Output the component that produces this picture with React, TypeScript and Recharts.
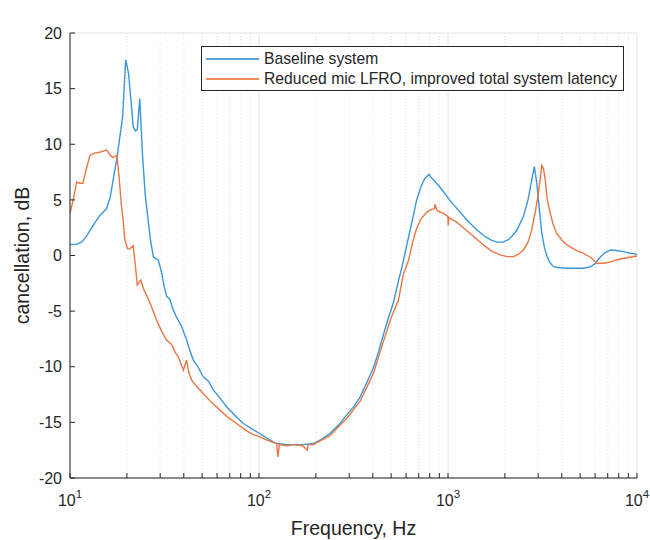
import React from 'react';
import { LineChart, Line, XAxis, YAxis, CartesianGrid, ReferenceLine, Legend } from 'recharts';

const title = 'FB ANC';
const xLabel = 'Frequency, Hz';
const yLabel = 'cancellation, dB';
const seriesNames = ['Baseline system', 'Reduced mic LFRO, improved total system latency'];
const seriesColors = ['#3a96d8', '#ea7642'];

const decadeTicks = [10, 100, 1000, 10000];
const decadeExponents = ['1', '2', '3', '4'];
const minorTicks = [20, 30, 40, 50, 60, 70, 80, 90, 200, 300, 400, 500, 600, 700, 800, 900, 2000, 3000, 4000, 5000, 6000, 7000, 8000, 9000];
const yTicks = [-20, -15, -10, -5, 0, 5, 10, 15, 20];

const baselineFreq = [10, 10.8, 11.5, 12.2, 12.8, 13.6, 14.4, 15.0, 15.6, 16.3, 17.0, 17.8, 18.4, 19.0, 19.7, 20.4, 21.0, 21.6, 22.2, 22.7, 23.4, 24.2, 25.0, 25.9, 26.6, 27.6, 28.5, 29.3, 30.5, 31.5, 32.5, 33.7, 35.0, 36.5, 39.0, 41.4, 43.0, 44.9, 47.5, 50.7, 54, 57.4, 62, 67.4, 75, 82.7, 92, 101, 112, 124, 140, 152, 170, 194, 215, 237, 265, 292, 320, 343, 370, 403, 430, 452, 480, 513, 545, 575, 610, 650, 683, 720, 752, 794, 815, 838, 900, 960, 1018, 1130, 1258, 1400, 1543, 1680, 1817, 1960, 2119, 2300, 2506, 2650, 2775, 2863, 2949, 3050, 3135, 3240, 3341, 3480, 3623, 3900, 4266, 4700, 5222, 5700, 6018, 6350, 6697, 7230, 7800, 8467, 9200, 10000];
const baselineDb = [1.0, 1.0, 1.2, 1.7, 2.3, 3.0, 3.6, 3.9, 4.2, 5.2, 7.0, 9.0, 10.8, 12.5, 17.6, 16.4, 14.0, 11.6, 11.2, 11.3, 14.1, 9.0, 5.5, 3.2, 1.5, -0.1, -0.3, -0.4, -1.5, -2.8, -3.7, -3.9, -4.8, -5.5, -6.4, -7.6, -8.5, -9.4, -10.0, -10.9, -11.3, -12.1, -12.8, -13.6, -14.4, -15.1, -15.6, -16.0, -16.5, -16.9, -17.0, -17.0, -17.0, -16.9, -16.5, -16.0, -15.2, -14.3, -13.5, -12.7, -11.5, -10.1, -8.6, -7.3, -5.8, -4.3, -2.4, -0.8, 1.2, 3.3, 5.0, 6.2, 6.9, 7.3, 7.0, 6.8, 6.2, 5.6, 5.0, 4.1, 3.2, 2.4, 1.8, 1.4, 1.2, 1.2, 1.5, 2.2, 3.5, 5.0, 6.8, 8.0, 6.5, 4.0, 2.0, 0.7, -0.1, -0.7, -1.0, -1.1, -1.15, -1.15, -1.15, -1.0, -0.7, -0.2, 0.2, 0.5, 0.45, 0.35, 0.2, 0.1];

const reducedFreq = [10, 10.4, 10.85, 11.3, 11.7, 12.2, 12.76, 13.5, 14.5, 15.6, 16.2, 16.8, 17.7, 18.2, 18.7, 19.1, 19.5, 20.2, 20.8, 21.6, 22.2, 22.7, 23.7, 24.5, 25.4, 27, 28.7, 30.5, 32.4, 34.5, 36, 37.4, 39.8, 41.4, 42.5, 44, 47, 50.7, 56, 62.2, 69, 76.1, 85, 93.2, 101, 110, 124, 126, 128, 140, 152, 170, 180, 182, 194, 237, 292, 343, 403, 452, 500, 547, 580, 619, 650, 683, 720, 773, 817, 850, 852, 880, 941, 1000, 1002, 1010, 1111, 1306, 1543, 1700, 1889, 2050, 2226, 2400, 2506, 2650, 2775, 2900, 3011, 3135, 3200, 3270, 3350, 3477, 3600, 3750, 4000, 4266, 4700, 5222, 5700, 6150, 6697, 7200, 7800, 8800, 10000];
const reducedDb = [3.8, 5.0, 6.6, 6.5, 6.5, 7.8, 9.0, 9.2, 9.3, 9.5, 9.1, 8.8, 9.0, 7.0, 4.5, 3.2, 1.4, 0.6, 0.6, 0.9, -1.0, -2.65, -2.2, -3.0, -3.55, -4.6, -5.8, -6.8, -7.6, -8.0, -8.7, -9.1, -10.3, -9.4, -10.5, -11.2, -11.8, -12.4, -13.2, -13.9, -14.6, -15.1, -15.7, -16.1, -16.3, -16.6, -16.9, -18.1, -17.0, -17.1, -17.0, -17.1, -17.5, -17.0, -17.0, -16.2, -14.6, -13.1, -10.6, -7.9, -5.6, -4.0, -1.7, -0.4, 1.2, 2.45, 3.3, 3.9, 4.15, 4.2, 4.6, 4.0, 3.8, 3.5, 2.7, 3.4, 3.0, 2.0, 0.95, 0.4, 0.05, -0.1, -0.1, 0.2, 0.5, 1.2, 2.3, 4.0, 5.6, 8.1, 7.8, 6.8, 5.0, 3.8, 2.8, 2.0, 1.4, 0.95, 0.5, 0.2, -0.2, -0.7, -0.7, -0.6, -0.4, -0.2, -0.05];

const baselineData = baselineFreq.map((f, i) => ({ f, v: baselineDb[i] }));
const reducedData = reducedFreq.map((f, i) => ({ f, v: reducedDb[i] }));
const allXTicks = [...decadeTicks, ...minorTicks].sort((a, b) => a - b);

const FONT = '"Liberation Sans", Arial, Helvetica, sans-serif';
const TEXT = '#262626';
const AXIS = '#262626';

const XTick = (props: any) => {
  const { x, y, payload } = props;
  const idx = decadeTicks.indexOf(payload.value);
  if (idx < 0) return <g />;
  return (
    <text x={x} y={y + 28} textAnchor="middle" fontSize={16} fill={TEXT} fontFamily={FONT}>
      <tspan>10</tspan>
      <tspan dy={-8} fontSize={11.5}>{decadeExponents[idx]}</tspan>
    </text>
  );
};

const EmptyTick = () => <g />;

const LegendBox = () => (
  <div
    style={{
      width: 421,
      height: 43,
      border: '1px solid #262626',
      background: '#ffffff',
      fontFamily: FONT,
      fontSize: 15.7,
      color: TEXT,
      boxSizing: 'content-box',
    }}
  >
    {seriesNames.map((n, i) => (
      <div key={n} style={{ display: 'flex', alignItems: 'center', height: 20, marginTop: i === 0 ? 2 : 0 }}>
        <div style={{ width: 53, height: 0, borderTop: `2px solid ${seriesColors[i]}`, marginLeft: 4, marginRight: 5, opacity: 0.85 }} />
        <span style={{ whiteSpace: 'nowrap', lineHeight: '20px' }}>{n}</span>
      </div>
    ))}
  </div>
);

export default function App() {
  return (
    <div style={{ position: 'absolute', left: 0, top: 0, width: 650, height: 540, background: '#fff' }}>
      <LineChart width={650} height={540} margin={{ top: 33, right: 13, bottom: 0, left: 0 }} style={{ fontFamily: FONT }}>
        <CartesianGrid vertical={false} stroke="#e4e4e4" strokeWidth={1} />
        {minorTicks.map((t) => (
          <ReferenceLine key={'m' + t} xAxisId="bottom" yAxisId="left" x={t} stroke="#dcdcdc" strokeDasharray="1 2" strokeWidth={1} />
        ))}
        {decadeTicks.map((t) => (
          <ReferenceLine key={'d' + t} xAxisId="bottom" yAxisId="left" x={t} stroke="#e4e4e4" strokeWidth={1} />
        ))}
        <XAxis
          xAxisId="bottom"
          dataKey="f"
          type="number"
          scale="log"
          domain={[10, 10000]}
          allowDataOverflow
          ticks={allXTicks}
          interval={0}
          height={62}
          tickSize={-5}
          tickMargin={5}
          tick={<XTick />}
          axisLine={{ stroke: AXIS }}
          tickLine={{ stroke: AXIS }}
          label={{
            content: (p: any) => {
              const vb = p.viewBox;
              return (
                <text x={vb.x + vb.width / 2} y={vb.y + 57} textAnchor="middle" fontSize={19.5} fill={TEXT} fontFamily={FONT}>
                  {xLabel}
                </text>
              );
            },
          }}
        />
        <XAxis
          xAxisId="top"
          orientation="top"
          dataKey="f"
          type="number"
          scale="log"
          domain={[10, 10000]}
          allowDataOverflow
          ticks={allXTicks}
          interval={0}
          height={0}
          tickSize={-5}
          tick={<EmptyTick />}
          axisLine={{ stroke: AXIS }}
          tickLine={{ stroke: AXIS }}
          label={{
            content: (p: any) => {
              const vb = p.viewBox;
              return (
                <text x={vb.x + vb.width / 2} y={vb.y - 12} textAnchor="middle" fontSize={13} fontWeight="bold" fill={TEXT} fontFamily={FONT}>
                  {title}
                </text>
              );
            },
          }}
        />
        <YAxis
          yAxisId="left"
          type="number"
          domain={[-20, 20]}
          ticks={yTicks}
          interval={0}
          width={70}
          tickSize={-5}
          tickMargin={13}
          tick={{ fontSize: 16, fill: TEXT, fontFamily: FONT }}
          axisLine={{ stroke: AXIS }}
          tickLine={{ stroke: AXIS }}
          label={{
            content: (p: any) => {
              const vb = p.viewBox;
              const cx = 22;
              const cy = vb.y + vb.height / 2;
              return (
                <text x={cx} y={cy} transform={`rotate(-90, ${cx}, ${cy})`} textAnchor="middle" dominantBaseline="central" fontSize={19.5} fill={TEXT} fontFamily={FONT}>
                  {yLabel}
                </text>
              );
            },
          }}
        />
        <YAxis
          yAxisId="right"
          orientation="right"
          type="number"
          domain={[-20, 20]}
          ticks={yTicks}
          interval={0}
          width={0}
          tickSize={-5}
          tick={<EmptyTick />}
          axisLine={{ stroke: AXIS }}
          tickLine={{ stroke: AXIS }}
        />
        <Line
          xAxisId="bottom"
          yAxisId="left"
          data={baselineData}
          dataKey="v"
          name={seriesNames[0]}
          type="linear"
          stroke={seriesColors[0]}
          strokeWidth={1.4}
          dot={false}
          activeDot={false}
          isAnimationActive={false}
        />
        <Line
          xAxisId="bottom"
          yAxisId="left"
          data={reducedData}
          dataKey="v"
          name={seriesNames[1]}
          type="linear"
          stroke={seriesColors[1]}
          strokeWidth={1.4}
          dot={false}
          activeDot={false}
          isAnimationActive={false}
        />
        <Legend
          layout="vertical"
          verticalAlign="middle"
          align="center"
          content={<LegendBox />}
          wrapperStyle={{ position: 'absolute', left: 201, top: 46, width: 'auto', height: 'auto' }}
        />
      </LineChart>
    </div>
  );
}
